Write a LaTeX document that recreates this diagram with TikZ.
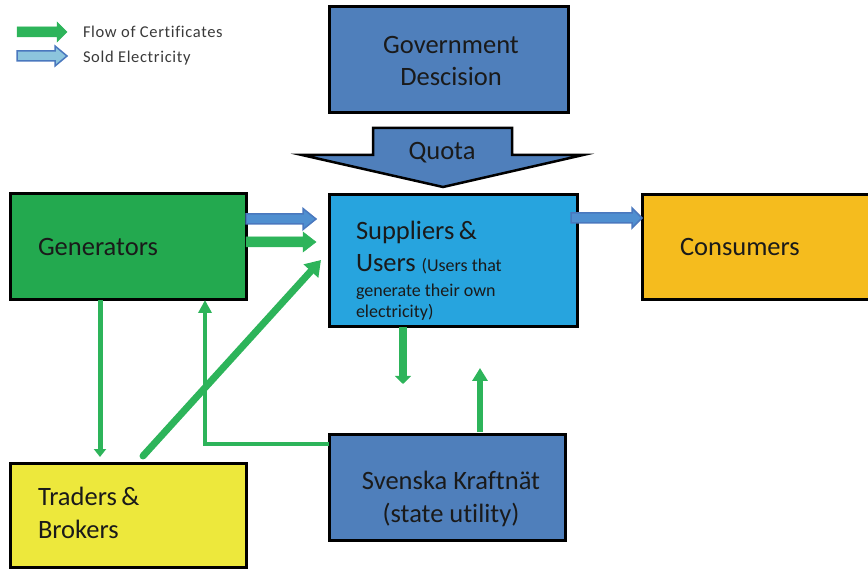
\documentclass[tikz,border=0pt]{standalone}
\usepackage{fontspec}
\setmainfont{Carlito}[Ligatures=NoCommon]
\usetikzlibrary{arrows.meta,calc}
\definecolor{govblue}{HTML}{4F7FBB}
\definecolor{supblue}{HTML}{27A4DE}
\definecolor{gengreen}{HTML}{23A94F}
\definecolor{argreen}{HTML}{2DB45A}
\definecolor{conyellow}{HTML}{F5BC1E}
\definecolor{trayellow}{HTML}{EDE83C}
\definecolor{elblue}{HTML}{4F8FD0}
\definecolor{elline}{HTML}{4A78BE}
\definecolor{lgblue}{HTML}{8CC5DD}
\definecolor{txt}{HTML}{1A1A1A}
\definecolor{legtxt}{HTML}{3A3A3A}
\newcommand\blockarr[6]{% start, end, shaft half, head half, head length, style
  \filldraw[#6] ($(#1)+(0,-#3)$) -- ($(#2)+(-#5,-#3)$) -- ($(#2)+(-#5,-#4)$) -- (#2)
    -- ($(#2)+(-#5,#4)$) -- ($(#2)+(-#5,#3)$) -- ($(#1)+(0,#3)$) -- cycle;}
\begin{document}
\begin{tikzpicture}[x=1pt,y=-1pt,
  box/.style={draw=black, line width=3pt, outer sep=0pt, inner sep=0pt},
  big/.style={font=\fontsize{26.5}{30}\selectfont, text=txt, inner sep=0pt, outer sep=0pt},
  smalltxt/.style={font=\fontsize{18}{21}\selectfont, text=txt, inner sep=0pt, outer sep=0pt},
  legtext/.style={font=\fontsize{16.5}{20}\selectfont\addfontfeature{LetterSpace=4}, text=legtxt, inner sep=0pt, outer sep=0pt},
  garrow/.style={draw=argreen},
  greenblock/.style={fill=argreen, draw=argreen, line width=0.5pt},
  blueblock/.style={fill=elblue, draw=elline, line width=1.5pt, line join=miter},
  legblue/.style={fill=lgblue, draw=elline, line width=1.5pt, line join=miter}]
\useasboundingbox (0,0) rectangle (868,569);

% boxes
\node[box, fill=govblue, minimum width=239pt, minimum height=106pt] (gov) at (448.5,60) {};
\node[box, fill=supblue, minimum width=248pt, minimum height=132pt] (sup) at (453,261) {};
\node[box, fill=gengreen, minimum width=236pt, minimum height=106pt] (gen) at (128,247) {};
\node[box, fill=conyellow, minimum width=238pt, minimum height=105pt] (con) at (761,247.5) {};
\node[box, fill=trayellow, minimum width=236pt, minimum height=104pt] (tra) at (128,515) {};
\node[box, fill=govblue, minimum width=236pt, minimum height=106pt] (sve) at (447,487) {};

% texts
\node[big, anchor=base] (govt1) at (451,54) {Government};
\node[big, anchor=base] (govt2) at (451,86) {Descision};
\node[big, anchor=base west] (gent) at (38,256) {Generators};
\node[big, anchor=base west] (cont) at (680,256) {Consumers};
\node[big, anchor=base west] (trat1) at (38,505) {Traders\,\&};
\node[big, anchor=base west] (trat2) at (38,538) {Brokers};
\node[big, anchor=base] (svet1) at (451,489) {Svenska Kraftnät};
\node[big, anchor=base] (svet2) at (451,522) {(state utility)};
\node[big, anchor=base west] (supt1) at (356,240) {Suppliers\,\&};
\node[big, anchor=base west] (supt2) at (356,272) {Users {\fontsize{18}{21}\selectfont (Users that}};
\node[smalltxt, anchor=base west] (supt3) at (356,297) {generate their own};
\node[smalltxt, anchor=base west] (supt4) at (356,318) {electricity)};

% quota arrow
\coordinate (qtip) at ($(sup.north)+(-10,-8)$);
\filldraw[fill=govblue, draw=black, line width=2.5pt, line join=miter, miter limit=20]
  ($(qtip)+(-70,-59)$) -- ($(qtip)+(69,-59)$) -- ($(qtip)+(69,-32)$) -- ($(qtip)+(140,-32)$)
  -- (qtip) -- ($(qtip)+(-141,-32)$) -- ($(qtip)+(-70,-32)$) -- cycle;
\node[big, anchor=base] (quota) at (442,160) {Quota};

% block arrows
\coordinate (b1s) at ($(gen.east)+(0,-28)$);
\coordinate (b1e) at ($(sup.west)+(-13,-42)$);
\blockarr{b1s}{b1e}{5}{10.5}{13}{blueblock}
\coordinate (b2s) at ($(gen.east)+(0,-5)$);
\coordinate (b2e) at ($(sup.west)+(-13,-19)$);
\blockarr{b2s}{b2e}{5}{10}{13}{greenblock}
\coordinate (b3s) at ($(sup.east)+(-6,-43)$);
\coordinate (b3e) at ($(con.west)+(0,-29.5)$);
\blockarr{b3s}{b3e}{5}{10}{10}{blueblock}

% green line arrows
\draw[garrow, line width=5pt, -{Triangle[width=12pt,length=8pt]}]
  ($(gen.south west)+(90,0)$) -- ($(tra.north west)+(90,-6)$);
\draw[garrow, line width=4pt, -{Triangle[width=13pt,length=13pt]}]
  ($(sve.north west)+(0,10)$) -| ($(gen.south west)+(195,0)$);
\draw[garrow, line width=7pt, line cap=round, -{Triangle[width=19pt,length=15pt]}]
  ($(tra.north west)+(133,-7)$) -- ($(sup.west)+(-8,-1)$);
\draw[garrow, line width=8pt, -{Triangle[width=16pt,length=8pt]}]
  ($(sup.south west)+(74,0)$) -- ($(sup.south west)+(74,57)$);
\draw[garrow, line width=6pt, -{Triangle[width=15pt,length=13pt]}]
  ($(sve.north west)+(151,-2)$) -- ($(sup.south west)+(151,41)$);

% legend
\coordinate (l1s) at (17,32);
\coordinate (l1e) at (67,32);
\blockarr{l1s}{l1e}{5}{10}{10}{greenblock}
\coordinate (l2s) at (17,56);
\coordinate (l2e) at (67,56);
\blockarr{l2s}{l2e}{5}{10}{12}{legblue}
\node[legtext, anchor=base west] (leg1) at (83,37.5) {Flow of Certificates};
\node[legtext, anchor=base west] (leg2) at (83,62.5) {Sold Electricity};
\end{tikzpicture}
\end{document}
